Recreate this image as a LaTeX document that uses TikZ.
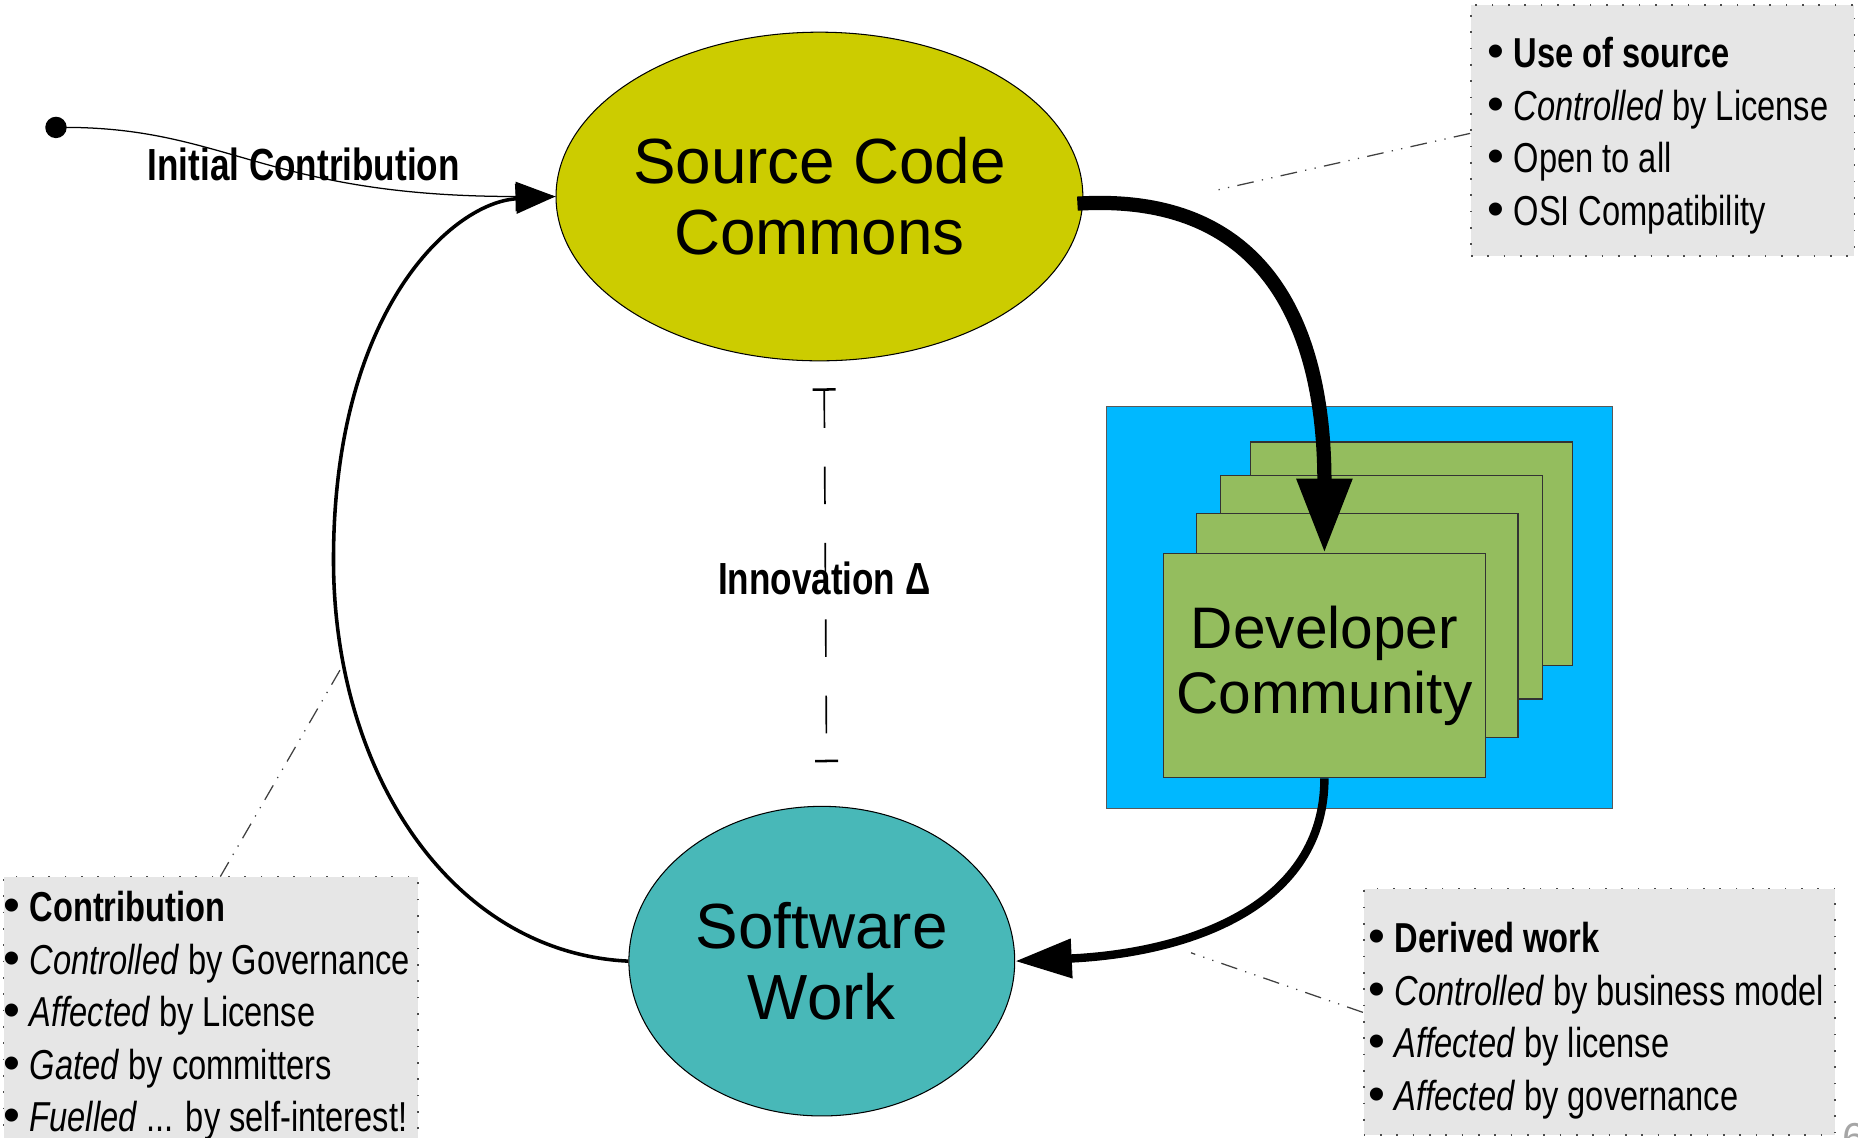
\documentclass[tikz,border=0pt]{standalone}
\usepackage{fontspec}
\setmainfont{Liberation Sans}
\newfontfamily\narrowfont[FakeStretch=0.78]{Liberation Sans}
\newfontfamily\bulletfont{Liberation Sans}
\newcommand\blt{{\bulletfont\fontsize{23}{25}\selectfont\textbullet}\hspace{4.5pt}}
\usetikzlibrary{arrows.meta,shapes.geometric}
\definecolor{sccyellow}{HTML}{CCCC00}
\definecolor{swteal}{HTML}{48B8B8}
\definecolor{devblue}{HTML}{00B8FF}
\definecolor{devgreen}{HTML}{94BD5E}
\definecolor{boxgray}{HTML}{E6E6E6}
\begin{document}
\begin{tikzpicture}[x=0.02cm,y=-0.02cm,
  bigtext/.style={font=\fontsize{30.5}{34}\selectfont, align=center, text=black},
  ell/.style={ellipse, draw=black, line width=0.5pt, inner sep=0pt},
  devcard/.style={rectangle, draw=black!80, line width=0.6pt, fill=devgreen, minimum width=5.4cm, minimum height=3.76cm, inner sep=0pt},
  graybox/.style={rectangle, fill=boxgray, draw=black!70, line width=0.8pt, dash pattern=on 0.8pt off 7pt, inner sep=0pt},
  boxline/.style={anchor=base west, inner sep=0pt, font=\narrowfont\fontsize{20}{25}\selectfont},
  boldlabel/.style={inner sep=0pt, font=\narrowfont\bfseries\fontsize{21.5}{25}\selectfont},
  dashdot/.style={draw=black!75, line width=0.6pt, dash pattern=on 8pt off 4pt on 0.6pt off 4pt on 0.6pt off 4pt},
  bigarrow/.style={line width=6.8pt, -{Triangle[length=35.7pt,width=25pt]}},
  midarrow/.style={line width=4pt, -{Triangle[length=27pt,width=18pt]}},
  looparrow/.style={line width=1.7pt, -{Triangle[length=19pt,width=14pt]}},
  thinarrow/.style={line width=0.6pt, -{Triangle[length=19pt,width=14pt]}},
  innov/.style={line width=0.8pt, dash pattern=on 18pt off 18.5pt, {Bar[width=11pt,line width=1.2pt]}-{Bar[width=11pt,line width=1.2pt]}}
]
\useasboundingbox (0,0) rectangle (1560,955);

% gray info boxes
\node[graybox, minimum width=6.44cm, minimum height=4.22cm] (tr) at (1396,109.5) {};
\node[graybox, minimum width=6.96cm, minimum height=4.68cm] (bl) at (177,853) {};
\node[graybox, minimum width=7.92cm, minimum height=4.14cm] (br) at (1343,849.5) {};

% dash-dot connectors
\coordinate (trend) at (1020,160);
\coordinate (blend) at (287,560);
\coordinate (brend) at (1000,800);
\draw[dashdot] (tr.west |- 0,112) -- (trend);
\draw[dashdot] (185,736) -- (blend);
\draw[dashdot] (br.west |- 0,850) -- (brend);

% developer community
\node[rectangle, draw=black!65, line width=0.6pt, fill=devblue, minimum width=8.5cm, minimum height=6.76cm] (blue) at (1141.5,510) {};
\node[devcard] (dev3) at (1185,465) {};
\node[devcard] (dev2) at (1160,493) {};
\node[devcard] (dev1) at (1139.5,525) {};
\node[devcard, bigtext, font=\fontsize{28}{31}\selectfont] (dev) at (1112,559) {Developer\\Community};

% ellipses
\node[ell, fill=sccyellow, minimum width=8.56cm, minimum height=5.52cm, bigtext] (scc) at (688,165) {Source Code\\Commons};
\node[ell, fill=swteal, minimum width=6.48cm, minimum height=5.2cm, bigtext] (sw) at (690,807) {Software\\Work};

% initial contribution
\node[circle, fill=black, inner sep=0pt, minimum size=0.36cm] (start) at (47,107) {};
\draw[thinarrow] (start.center) .. controls (190,105) and (220,165) .. (scc.west);
\node[boldlabel] (initlbl) at (255,138) {Initial Contribution};

% loop arrow
\coordinate (loopmid) at (280,470);
\draw[looparrow] (sw.west) .. controls (380,800) and (280,650) .. (loopmid) .. controls (280,260) and (380,170) .. (scc.west);

% thick arrows
\coordinate (sccout) at ([xshift=-0.1cm,yshift=-0.12cm]scc.east);
\draw[bigarrow] (sccout) .. controls (1080,160) and (1112,300) .. (dev.north);
\draw[midarrow] (dev.south) .. controls (1112,760) and (1000,800) .. (sw.east);

% innovation delta
\coordinate (itop) at (692,326);
\coordinate (ibot) at (694,640);
\draw[innov] (itop) -- (ibot);
\node[boldlabel] (innolbl) at (692,486) {Innovation Δ};

% box texts
\node[boxline] (tr1) at (1248.5,57) {\blt\textbf{Use of source}};
\node[boxline] (tr2) at (1248.5,101) {\blt\textit{Controlled} by License};
\node[boxline] (tr3) at (1248.5,145) {\blt Open to all};
\node[boxline] (tr4) at (1248.5,189) {\blt OSI Compatibility};

\node[boxline] (bl1) at (2.5,774) {\blt\textbf{Contribution}};
\node[boxline] (bl2) at (2.5,818) {\blt\textit{Controlled} by Governance};
\node[boxline] (bl3) at (2.5,862) {\blt\textit{Affected} by License};
\node[boxline] (bl4) at (2.5,906) {\blt\textit{Gated} by committers};
\node[boxline] (bl5) at (2.5,950) {\blt\textit{Fuelled} ... by self-interest!};

\node[boxline] (br1) at (1148.5,800) {\blt\textbf{Derived work}};
\node[boxline] (br2) at (1148.5,844) {\blt\textit{Controlled} by business model};
\node[boxline] (br3) at (1148.5,888) {\blt\textit{Affected} by license};
\node[boxline] (br4) at (1148.5,932) {\blt\textit{Affected} by governance};

% page number
\node[anchor=north west, inner sep=0pt, text=black!35, font=\fontsize{20}{24}\selectfont] (pagenum) at (1547,943) {6};
\end{tikzpicture}
\end{document}
